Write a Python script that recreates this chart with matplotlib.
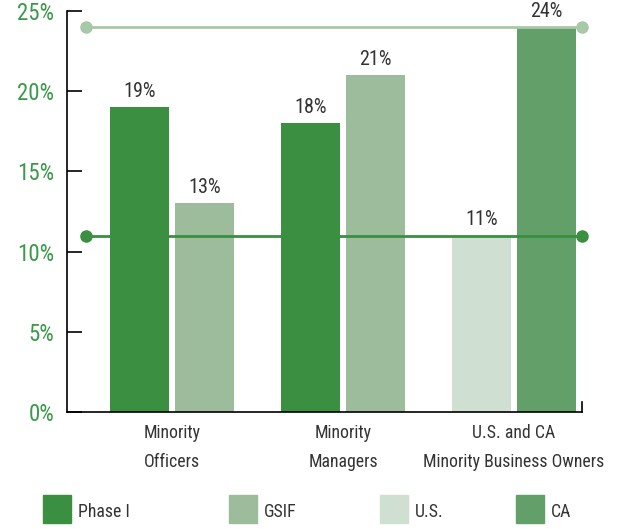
import matplotlib
matplotlib.use("Agg")
import matplotlib.pyplot as plt
from matplotlib.patches import Rectangle
from matplotlib import font_manager
import numpy as np

available = {f.name for f in font_manager.fontManager.ttflist}
candidates = ['Roboto Condensed', 'Liberation Sans Narrow', 'Open Sans Condensed',
              'Noto Sans Condensed', 'Roboto', 'Liberation Sans']
chosen = [c for c in candidates if c in available][:1]
plt.rcParams['font.family'] = chosen + ['DejaVu Sans']

categories = ["Minority\nOfficers", "Minority\nManagers", "U.S. and CA\nMinority Business Owners"]
left_series = ["Phase I", "Phase I", "U.S."]
right_series = ["GSIF", "GSIF", "CA"]
left_values = [19, 18, 11]
right_values = [13, 21, 24]
ref_ca = 24
ref_us = 11
yticks = [0, 5, 10, 15, 20, 25]
legend_labels = ["Phase I", "GSIF", "U.S.", "CA"]

colors = {"Phase I": "#3a8f41", "GSIF": "#9dbc9c", "U.S.": "#cfdfd1", "CA": "#629f69"}
green_tick = "#3a9a4a"
text_col = "#333333"

W, H = 618, 529
fig = plt.figure(figsize=(W / 100, H / 100), dpi=100)
ax = fig.add_axes([67 / W, 1 - 412 / H, (582 - 67) / W, (412 - 11) / H])

x = np.arange(len(categories))
bw = 0.345
off = 0.19
for i in range(len(categories)):
    for xv, s, v in [(x[i] - off, left_series[i], left_values[i]),
                     (x[i] + off, right_series[i], right_values[i])]:
        ax.bar(xv, v, width=bw, color=colors[s], zorder=2)
        ax.text(xv, v + 0.38, f"{v}%", ha="center", va="bottom",
                fontsize=14.5, color=text_col, zorder=4)

ax.set_xlim(-0.614, 2.398)
ax.set_ylim(0, 25)

# reference lines
xl = [-0.503, 2.398]
ax.plot(xl, [ref_ca, ref_ca], color="#a8c9a8", lw=2, marker="o", ms=8,
        zorder=3, clip_on=False)
ax.plot(xl, [ref_us, ref_us], color="#3a8f41", lw=2, marker="o", ms=8,
        zorder=3, clip_on=False)

ax.set_yticks(yticks)
ax.set_yticklabels([f"{t}%" for t in yticks])
ax.tick_params(axis="y", direction="in", length=11, width=1.2, pad=9,
               labelsize=16.5, colors="black")
for lab in ax.get_yticklabels():
    lab.set_color(green_tick)

ax.set_xticks(x)
ax.set_xticklabels(categories, fontsize=12.8, color=text_col)
for lab in ax.get_xticklabels():
    lab.set_linespacing(1.75)
ax.tick_params(axis="x", length=0, pad=9)

ax.spines["top"].set_visible(False)
ax.spines["right"].set_bounds(0, 0.62)
for sp in ["left", "bottom", "right"]:
    ax.spines[sp].set_linewidth(1.2)
    ax.spines[sp].set_color("black")

# legend (manual layout)
sq_x = [43, 229, 380, 516]
for lx, lab in zip(sq_x, legend_labels):
    fig.patches.append(Rectangle((lx / W, 1 - 523 / H), 28 / W, 28 / H,
                                 transform=fig.transFigure, color=colors[lab]))
    fig.text((lx + 35) / W, 1 - 512 / H, lab, fontsize=12.8, color=text_col,
             ha="left", va="center")

fig.savefig("out.png", dpi=100)
